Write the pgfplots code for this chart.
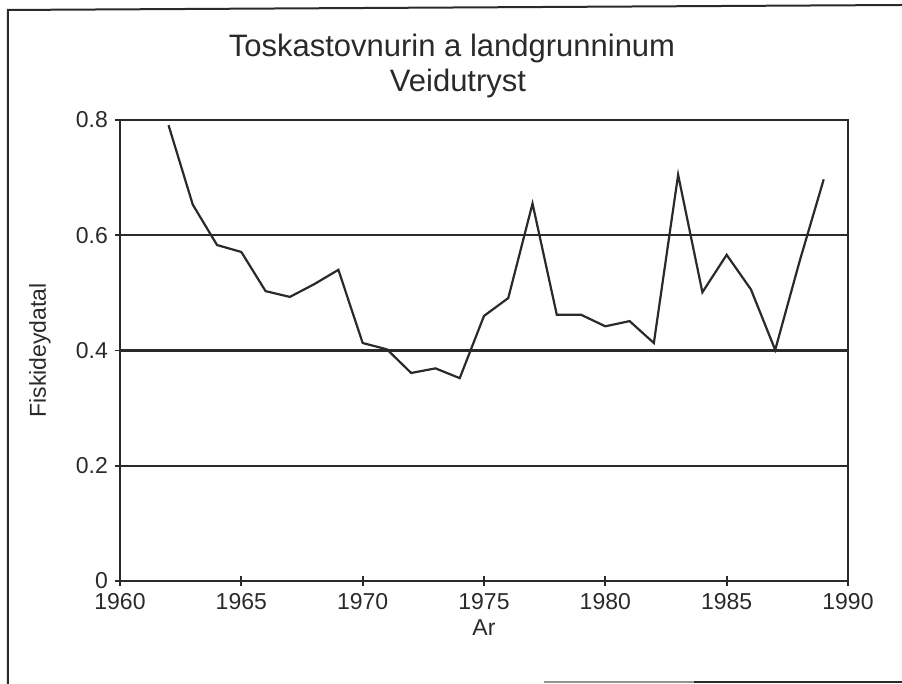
\documentclass[border=0pt]{standalone}
\usepackage{fontspec}
\setmainfont{Liberation Sans}
\usepackage{pgfplots}
\pgfplotsset{compat=1.18}
\definecolor{ink}{HTML}{2A2A2A}
\begin{document}
\begin{tikzpicture}
\useasboundingbox (-60pt,-51.5pt) rectangle (391pt,290.5pt);
\draw[ink, line width=1pt] (-56pt,-51.5pt) -- (-56pt,285.5pt) -- (391pt,288pt);
\draw[ink, line width=1pt] (287pt,-50.5pt) -- (391pt,-50.5pt);
\draw[ink!50, line width=0.6pt] (212pt,-50.5pt) -- (287pt,-50.5pt);
\node[ink, font=\fontsize{15.5}{18}\selectfont, anchor=base] at (166pt,262pt) {Toskastovnurin a landgrunninum};
\node[ink, font=\fontsize{15.5}{18}\selectfont, anchor=base] at (169pt,244.5pt) {Veidutryst};
\begin{axis}[
  at={(0pt,0pt)}, anchor=origin,
  scale only axis, width=364pt, height=230.5pt,
  xmin=1960, xmax=1990, ymin=0, ymax=0.8,
  xtick={1960,1965,...,1990},
  ytick={0,0.2,0.4,0.6,0.8},
  yticklabels={0,0.2,0.4,0.6,0.8},
  xticklabel style={/pgf/number format/1000 sep={}},
  /pgf/number format/assume math mode=true,
  tick label style={font=\fontsize{11.5}{13}\selectfont, text=ink},
  tick align=center, major tick length=5pt,
  xtick pos=bottom, ytick pos=left,
  ymajorgrids,
  grid style={ink, line width=1.1pt},
  axis line style={ink, line width=1.1pt},
  tick style={ink, line width=0.9pt},
  xlabel={Ar}, ylabel={Fiskideydatal},
  label style={font=\fontsize{11.5}{13}\selectfont, text=ink},
  xlabel style={at={(axis description cs:0.5,-0.102)}, anchor=center},
  ylabel style={at={(axis description cs:-0.11,0.5)}, anchor=center},
  clip=false,
]
\addplot[ink, line width=1.1pt, mark=none] coordinates {
(1962,0.791) (1963,0.653) (1964,0.583) (1965,0.571) (1966,0.503)
(1967,0.493) (1968,0.515) (1969,0.540) (1970,0.413) (1971,0.402)
(1972,0.361) (1973,0.369) (1974,0.352) (1975,0.460) (1976,0.491)
(1977,0.655) (1978,0.462) (1979,0.462) (1980,0.442) (1981,0.451)
(1982,0.413) (1983,0.705) (1984,0.501) (1985,0.566) (1986,0.506)
(1987,0.401) (1988,0.554) (1989,0.697)
};
\end{axis}
\end{tikzpicture}
\end{document}
